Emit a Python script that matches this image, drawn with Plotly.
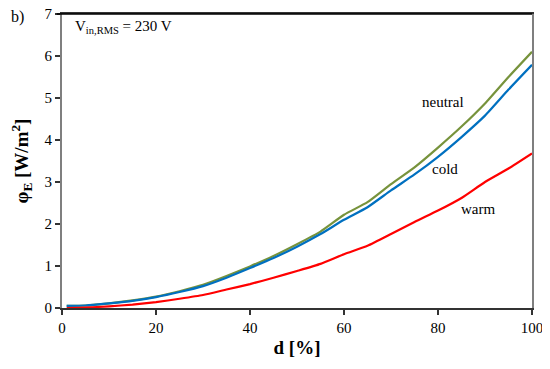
import plotly.graph_objects as go

d = [1, 5, 10, 15, 20, 25, 30, 35, 40, 45, 50, 55, 60, 65, 70, 75, 80, 85, 90, 95, 100]
neutral = [0.05, 0.06, 0.11, 0.18, 0.27, 0.40, 0.55, 0.76, 0.99, 1.24, 1.52, 1.82, 2.22, 2.52, 2.95, 3.35, 3.82, 4.32, 4.87, 5.50, 6.10]
cold = [0.05, 0.06, 0.11, 0.17, 0.26, 0.38, 0.52, 0.72, 0.95, 1.19, 1.46, 1.76, 2.10, 2.40, 2.80, 3.18, 3.60, 4.07, 4.58, 5.20, 5.79]
warm = [0.00, 0.01, 0.04, 0.08, 0.14, 0.22, 0.31, 0.44, 0.57, 0.72, 0.88, 1.05, 1.28, 1.48, 1.76, 2.05, 2.32, 2.62, 3.00, 3.32, 3.68]

font = "Liberation Serif"

fig = go.Figure()
fig.add_trace(go.Scatter(x=d, y=neutral, mode="lines", line=dict(color="#77933C", width=2.2, shape="spline", smoothing=0.5), name="neutral"))
fig.add_trace(go.Scatter(x=d, y=cold, mode="lines", line=dict(color="#0070C0", width=2.2, shape="spline", smoothing=0.5), name="cold"))
fig.add_trace(go.Scatter(x=d, y=warm, mode="lines", line=dict(color="#FF0000", width=2.2, shape="spline", smoothing=0.5), name="warm"))

fig.update_layout(
    width=542, height=361,
    margin=dict(l=54, r=18, t=6, b=61),
    paper_bgcolor="white", plot_bgcolor="white",
    showlegend=False,
    font=dict(family=font, size=15, color="black"),
    xaxis=dict(
        range=[0, 100], dtick=20, tick0=0, automargin=False,
        showgrid=False, zeroline=False,
        showline=True, linecolor="#333333", linewidth=1.5, mirror=True,
        ticks="outside", ticklen=5, tickcolor="#333333", tickwidth=1.5,
        title=dict(text="<b>d [%]</b>", font=dict(family=font, size=19), standoff=6),
        tickfont=dict(family=font, size=15),
        ticklabeloverflow="allow",
    ),
    yaxis=dict(
        range=[0, 7], dtick=1, tick0=0, automargin=False,
        showgrid=False, zeroline=False,
        showline=True, linecolor="#7F7F7F", linewidth=2, mirror=True,
        ticks="outside", ticklen=5, tickcolor="#333333", tickwidth=1.5,
        title=dict(text="<b>φ<sub>E</sub> [W/m<sup>2</sup>]</b>", font=dict(family=font, size=19), standoff=12),
        tickfont=dict(family=font, size=15),
        ticklabeloverflow="allow",
    ),
)

# top border black line
fig.add_shape(type="line", xref="paper", yref="paper", x0=-0.011, x1=1, y0=1, y1=1,
              line=dict(color="black", width=1.5))

fig.add_annotation(x=0.024, y=0.955, xref="paper", yref="paper", xanchor="left", yanchor="middle",
                   text="V<sub>in,RMS</sub> = 230 V", showarrow=False, font=dict(family=font, size=15))
fig.add_annotation(x=-0.112, y=0.99, xref="paper", yref="paper", xanchor="left", yanchor="middle",
                   text="b)", showarrow=False, font=dict(family=font, size=16))
fig.add_annotation(x=81, y=4.9, text="neutral", showarrow=False, font=dict(family=font, size=15))
fig.add_annotation(x=81.5, y=3.3, text="cold", showarrow=False, font=dict(family=font, size=15))
fig.add_annotation(x=88.5, y=2.35, text="warm", showarrow=False, font=dict(family=font, size=15))

fig.write_html("out.html")
